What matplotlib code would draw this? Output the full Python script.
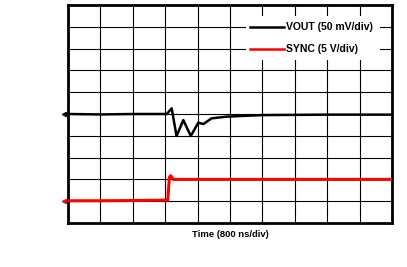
import matplotlib.pyplot as plt
from matplotlib.patches import Rectangle

# time in divisions (800 ns/div), level in screen divisions
vout_t = [0.0, 1.0, 2.0, 3.05, 3.2, 3.35, 3.56, 3.79, 4.02, 4.18, 4.43, 4.9, 6.0, 8.0, 10.0]
vout_v = [5.0, 4.98, 5.0, 5.0, 5.26, 3.99, 4.72, 3.99, 4.6, 4.54, 4.8, 4.88, 4.95, 4.97, 4.97]

sync_t = [0.0, 1.0, 2.0, 3.08, 3.13, 3.17, 3.25, 5.0, 8.0, 10.0]
sync_v = [1.02, 1.02, 1.03, 1.05, 2.1, 2.17, 2.0, 2.0, 2.0, 2.0]

labels = ["VOUT (50 mV/div)", "SYNC (5 V/div)"]
colors = ["black", "#ff0000"]

plt.rcParams['font.family'] = ['Liberation Sans', 'DejaVu Sans']

fig = plt.figure(figsize=(4.07, 2.67), dpi=100)
ax = fig.add_axes([68 / 407, 1 - 223 / 267, 324 / 407, 218 / 267])
ax.set_xlim(0, 10)
ax.set_ylim(0, 10)
ax.set_xticks(range(11))
ax.set_yticks(range(11))
ax.grid(True, color="black", linewidth=0.8)
ax.tick_params(length=0, labelbottom=False, labelleft=False)
for s in ax.spines.values():
    s.set_linewidth(2.0)

ax.plot(vout_t, vout_v, color=colors[0], linewidth=1.8, zorder=3)
ax.plot(sync_t, sync_v, color=colors[1], linewidth=2.2, zorder=3)

# channel markers at left edge
ax.plot([-0.12], [vout_v[0]], marker="<", color=colors[0], markersize=3, clip_on=False)
ax.plot([-0.12], [sync_v[0]], marker="<", color=colors[1], markersize=3, clip_on=False)

# legend box on top of grid
ax.add_patch(Rectangle((5.48, 7.48), 4.15, 2.02, facecolor="white", edgecolor="none", zorder=4))
for i, (lab, c) in enumerate(zip(labels, colors)):
    y = 9 - i
    ax.plot([5.62, 6.67], [y, y], color=c, linewidth=1.8, zorder=5)
    ax.text(6.74, y, lab, fontsize=7.5, fontweight="bold", va="center", ha="left", zorder=5)

ax.set_xlabel("Time (800 ns/div)", fontsize=6.8, fontweight="bold", labelpad=5)

fig.savefig("out.png", dpi=100)
